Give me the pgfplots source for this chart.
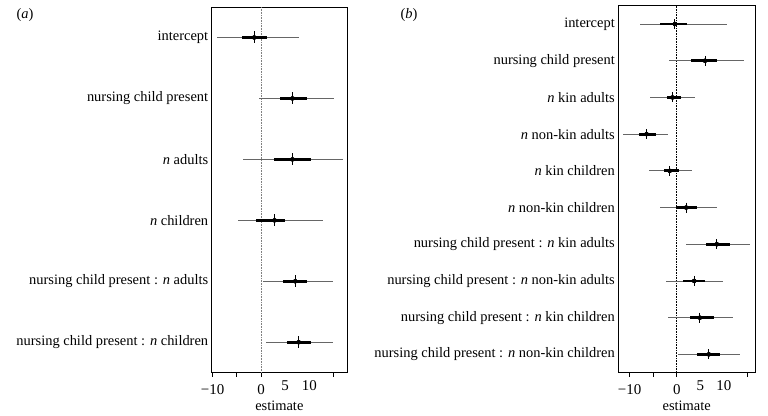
\documentclass[border=0pt]{standalone}
\usepackage{pgfplots}
\pgfplotsset{compat=1.18}
\usepackage{pgfplotstable}
\usepackage{fontspec}
\setmainfont{Liberation Serif}

\pgfplotstableread{
row est tlo thi klo khi
1 -1.4 -9.2 7.9 -4.0 1.2
2 6.5 -0.35 15.1 3.9 9.5
3 6.5 -3.8 16.9 2.7 10.4
4 2.8 -4.7 12.8 -1.0 5.0
5 7.1 0.4 14.8 4.5 9.5
6 7.8 1.0 14.8 5.4 10.3
}\tableA

\pgfplotstableread{
row est tlo thi klo khi
1 -0.4 -7.8 10.7 -3.5 2.1
2 6.0 -1.6 14.2 3.0 8.6
3 -0.9 -5.7 3.8 -2.1 1.0
4 -6.4 -11.4 -1.8 -8.1 -4.5
5 -1.5 -5.8 3.2 -2.8 0.4
6 2.0 -3.6 8.6 -0.1 4.2
7 8.5 1.9 15.5 6.2 11.2
8 3.7 -2.3 9.9 1.4 5.9
9 4.9 -1.8 11.9 2.8 8.0
10 6.8 0.3 13.5 4.4 9.2
}\tableB

\pgfplotsset{
  forest/.style={
    scale only axis,
    anchor=south west,
    y dir=reverse,
    axis line style={line width=0.8pt},
    ytick=data,
    ytick style={draw=none},
    xtick={-10,-5,0,15},
    xticklabels={−10,,0,},
    extra x ticks={5,10},
    extra x tick labels={5,10},
    extra x tick style={major tick length=0pt},
    xtick align=outside,
    xtick pos=bottom,
    major tick length=4bp,
    tick style={line width=0.8pt, black},
    /pgf/number format/assume math mode=true,
    tick label style={font=\fontsize{15}{16}\selectfont},
    xticklabel style={yshift=-4bp},
    label style={font=\fontsize{14.5}{16}\selectfont},
    xlabel={estimate},
    xlabel style={yshift=4bp},
    yticklabel style={anchor=east, font=\fontsize{14.5}{16}\selectfont},
  },
}

\begin{document}
\begin{tikzpicture}
\useasboundingbox (0,0) rectangle (768bp,416bp);
\fill[white] (0,0) rectangle (768bp,416bp);

\begin{axis}[forest,
  at={(211.7bp,43.3bp)}, width=135.3bp, height=365.7bp,
  xmin=-10.2, xmax=17.8, ymin=0.5, ymax=6.5,
  ytick={1,...,6},
  yticklabels={intercept, nursing child present, \textit{n} adults, \textit{n} children,
    nursing child present : \textit{n} adults, nursing child present : \textit{n} children},
]
\addplot[gray, densely dotted, line width=0.6pt] coordinates {(0,0.5) (0,6.5)};
\addplot[only marks, mark=none, error bars/.cd, x dir=both, x explicit, error mark=none,
  error bar style={draw=black!60, line width=0.9pt}]
  table[x=est, y=row, x error plus expr=\thisrow{thi}-\thisrow{est}, x error minus expr=\thisrow{est}-\thisrow{tlo}] {\tableA};
\addplot[only marks, mark=none, error bars/.cd, x dir=both, x explicit, error mark=none,
  error bar style={draw=black, line width=2.8pt}]
  table[x=est, y=row, x error plus expr=\thisrow{khi}-\thisrow{est}, x error minus expr=\thisrow{est}-\thisrow{klo}] {\tableA};
\addplot[only marks, mark=|, mark size=6bp, mark options={line width=0.9pt, black}]
  table[x=est, y=row] {\tableA};
\end{axis}

\begin{axis}[forest,
  at={(618.3bp,43.3bp)}, width=136.7bp, height=367bp,
  xmin=-12.4, xmax=16.6, ymin=0.5, ymax=10.5,
  ytick={1,...,10},
  yticklabels={intercept, nursing child present, \textit{n} kin adults, \textit{n} non-kin adults,
    \textit{n} kin children, \textit{n} non-kin children,
    nursing child present : \textit{n} kin adults, nursing child present : \textit{n} non-kin adults,
    nursing child present : \textit{n} kin children, nursing child present : \textit{n} non-kin children},
]
\addplot[black, densely dotted, line width=0.6pt] coordinates {(0,0.5) (0,10.5)};
\addplot[only marks, mark=none, error bars/.cd, x dir=both, x explicit, error mark=none,
  error bar style={draw=black!60, line width=0.9pt}]
  table[x=est, y=row, x error plus expr=\thisrow{thi}-\thisrow{est}, x error minus expr=\thisrow{est}-\thisrow{tlo}] {\tableB};
\addplot[only marks, mark=none, error bars/.cd, x dir=both, x explicit, error mark=none,
  error bar style={draw=black, line width=2.8pt}]
  table[x=est, y=row, x error plus expr=\thisrow{khi}-\thisrow{est}, x error minus expr=\thisrow{est}-\thisrow{klo}] {\tableB};
\addplot[only marks, mark=|, mark size=5bp, mark options={line width=0.9pt, black}]
  table[x=est, y=row] {\tableB};
\end{axis}

\node[font=\fontsize{14.5}{16}\selectfont] at (25bp,401bp) {(\textit{a})};
\node[font=\fontsize{14.5}{16}\selectfont] at (409bp,401bp) {(\textit{b})};
\end{tikzpicture}
\end{document}
